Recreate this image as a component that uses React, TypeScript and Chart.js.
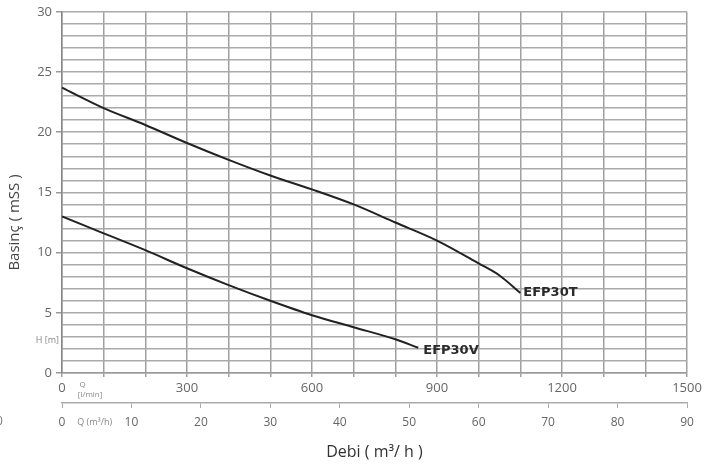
import React, { useEffect, useRef } from "react";
import { Chart, registerables } from "chart.js";

Chart.register(...registerables);

// Flow in l/min and head in m (mSS)
const flowT = [0, 100, 200, 300, 400, 500, 600, 700, 800, 900, 1000, 1050, 1100];
const headT = [23.7, 22.0, 20.6, 19.1, 17.7, 16.4, 15.25, 14.0, 12.5, 11.0, 9.1, 8.1, 6.65];
const flowV = [0, 100, 200, 300, 400, 500, 600, 700, 800, 855];
const headV = [13.0, 11.6, 10.2, 8.7, 7.3, 6.0, 4.8, 3.8, 2.8, 2.1];
const seriesNames = ["EFP30T", "EFP30V"];

const yLabelTicks = [0, 5, 10, 15, 20, 25, 30];
const xLabelTicksLpm = [0, 300, 600, 900, 1200, 1500];
const xTicksM3h = [0, 10, 20, 30, 40, 50, 60, 70, 80, 90];

const yTitle = "Basinç ( mSS )";
const xTitle = "Debi ( m³/ h )";
const hLabel = "H [m]";
const qLpmLabel = ["Q", "[l/min]"];
const qM3hLabel = "Q (m³/h)";

const FONT = '"Open Sans", "DejaVu Sans", sans-serif';

const annotPlugin = {
  id: "annot",
  afterDraw(chart: any) {
    const { ctx, scales, chartArea } = chart;
    const x = scales.x;
    const y = scales.y;
    const x2 = scales.x2;
    ctx.save();
    const offs = [
      { dx: 3, dy: 0 },
      { dx: 5, dy: 3 },
    ];
    chart.data.datasets.forEach((ds: any, i: number) => {
      const meta = chart.getDatasetMeta(i);
      const last = meta.data[meta.data.length - 1];
      ctx.font = '600 13px "DejaVu Sans", sans-serif';
      ctx.fillStyle = "#2a2a2a";
      ctx.textBaseline = "middle";
      ctx.textAlign = "left";
      ctx.fillText(ds.label, last.x + offs[i].dx, last.y + offs[i].dy);
    });
    ctx.save();
    ctx.translate(15, y.getPixelForValue(12.5));
    ctx.rotate(-Math.PI / 2);
    ctx.font = "15px " + FONT;
    ctx.fillStyle = "#444";
    ctx.textAlign = "center";
    ctx.textBaseline = "middle";
    ctx.fillText(yTitle, 0, 0);
    ctx.restore();
    ctx.font = "9px " + FONT;
    ctx.fillStyle = "#888";
    ctx.textAlign = "right";
    ctx.textBaseline = "middle";
    ctx.fillText(hLabel, chartArea.left - 3, y.getPixelForValue(2.7));
    ctx.font = "8px " + FONT;
    ctx.textAlign = "left";
    ctx.fillText(qLpmLabel[0], x.getPixelForValue(42), chartArea.bottom + 12);
    ctx.fillText(qLpmLabel[1], x.getPixelForValue(38), chartArea.bottom + 22);
    ctx.font = "9px " + FONT;
    ctx.fillText(qM3hLabel, x2.getPixelForValue(2.2), x2.top + 19);
    ctx.font = "12px " + FONT;
    ctx.fillStyle = "#777";
    ctx.textAlign = "left";
    ctx.fillText("0", -4, x2.top + 19);
    ctx.restore();
  },
};

export default function App() {
  const ref = useRef<HTMLCanvasElement>(null);
  useEffect(() => {
    document.body.style.margin = "0";
    const canvas = ref.current;
    if (!canvas) return;
    const chart = new Chart(canvas, {
      type: "line",
      data: {
        datasets: [
          {
            label: seriesNames[0],
            data: flowT.map((f, i) => ({ x: f, y: headT[i] })),
            borderColor: "#222",
            borderWidth: 2,
            pointRadius: 0,
            cubicInterpolationMode: "monotone",
            xAxisID: "x",
            yAxisID: "y",
          },
          {
            label: seriesNames[1],
            data: flowV.map((f, i) => ({ x: f, y: headV[i] })),
            borderColor: "#222",
            borderWidth: 2,
            pointRadius: 0,
            cubicInterpolationMode: "monotone",
            xAxisID: "x",
            yAxisID: "y",
          },
        ],
      },
      options: {
        responsive: false,
        animation: false,
        layout: { padding: { top: 8, right: 28, left: 0, bottom: 0 } },
        plugins: {
          legend: { display: false },
          tooltip: { enabled: false },
        },
        scales: {
          x: {
            type: "linear",
            position: "bottom",
            weight: 0,
            min: 0,
            max: 1500,
            afterFit: (s: any) => {
              s.height = 30;
            },
            grid: {
              color: "#a0a0a0",
              lineWidth: 1.5,
              tickColor: "#a0a0a0",
              tickLength: 4,
            },
            border: { display: true, color: "#999", width: 1.5 },
            ticks: {
              stepSize: 100,
              autoSkip: false,
              maxRotation: 0,
              align: "center",
              padding: 3,
              color: "#666",
              font: { family: FONT, size: 13 },
              callback: (v: any) => (xLabelTicksLpm.includes(Number(v)) ? String(v) : ""),
            },
          },
          x2: {
            type: "linear",
            position: "bottom",
            weight: 1,
            min: 0,
            max: 90,
            afterFit: (s: any) => {
              s.height = 65;
            },
            grid: {
              drawOnChartArea: false,
              color: "#aaa",
              tickColor: "#aaa",
              tickLength: 5,
            },
            border: { display: true, color: "#aaa", width: 1.5 },
            ticks: {
              stepSize: 10,
              autoSkip: false,
              maxRotation: 0,
              padding: 7,
              color: "#666",
              font: { family: FONT, size: 12 },
              callback: (v: any) => (xTicksM3h.includes(Number(v)) ? String(v) : ""),
            },
            title: {
              display: true,
              text: xTitle,
              color: "#333",
              font: { family: FONT, size: 16 },
              padding: { top: 0, bottom: 6 },
            },
          },
          y: {
            type: "linear",
            position: "left",
            min: 0,
            max: 30,
            afterFit: (s: any) => {
              s.width = 62;
            },
            grid: {
              color: "#aaaaaa",
              lineWidth: 1.5,
              tickLength: 6,
              tickColor: (c: any) =>
                c.tick && yLabelTicks.includes(c.tick.value) ? "#999" : "rgba(0,0,0,0)",
            },
            border: { display: true, color: "#888", width: 1.5 },
            ticks: {
              stepSize: 1,
              autoSkip: false,
              padding: 4,
              color: "#666",
              font: { family: FONT, size: 13 },
              callback: (v: any) => (yLabelTicks.includes(Number(v)) ? String(v) : ""),
            },
          },
        },
      },
      plugins: [annotPlugin],
    } as any);
    return () => chart.destroy();
  }, []);
  return (
    <div style={{ position: "absolute", left: 0, top: 0, width: 715, height: 468, background: "#fff" }}>
      <canvas ref={ref} width={715} height={468} style={{ display: "block" }} />
    </div>
  );
}
